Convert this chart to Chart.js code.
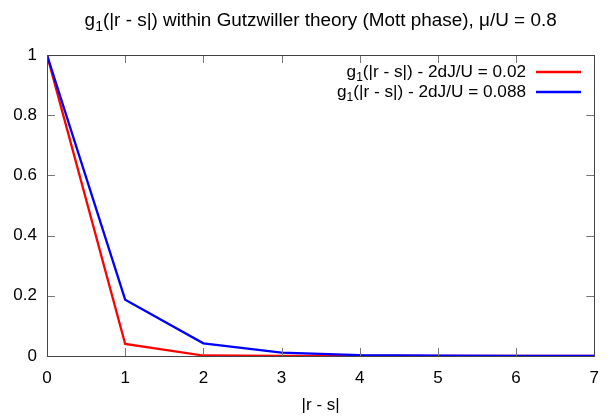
<!DOCTYPE html>
<html>
<head>
<meta charset="utf-8">
<script src="https://cdn.jsdelivr.net/npm/chart.js@4"></script>
<style>
  html, body { margin: 0; padding: 0; background: #fff; }
  #wrap { width: 611px; height: 416px; }
</style>
</head>
<body>
<div id="wrap"><canvas id="chart" width="611" height="416"></canvas></div>
<script>
/* g1(|r - s|) — Gutzwiller, Mott phase */

const distances = [0, 1, 2, 3, 4, 5, 6, 7];
const g1Low = [1, 0.04, 0.0016, 0.0001, 0, 0, 0, 0];          // 2dJ/U = 0.02
const g1High = [1, 0.187, 0.042, 0.011, 0.003, 0.001, 0.0003, 0.0001]; // 2dJ/U = 0.088
const xTicks = [0, 1, 2, 3, 4, 5, 6, 7];
const yTicks = [0, 0.2, 0.4, 0.6, 0.8, 1];
const seriesLabels = ['(|r - s|) - 2dJ/U = 0.02', '(|r - s|) - 2dJ/U = 0.088'];
const seriesColors = ['#ff0000', '#0000ff'];

const FONT = '"Liberation Sans", Arial, sans-serif';

// "g" + subscript "1" + rest
function drawSubText(ctx, rest, x, y, align, size) {
    const sub = Math.round(size * 0.72);
    ctx.font = size + 'px ' + FONT;
    const wG = ctx.measureText('g').width;
    const wRest = ctx.measureText(rest).width;
    ctx.font = sub + 'px ' + FONT;
    const wSub = ctx.measureText('1').width;
    const total = wG + wSub + wRest;
    const x0 = align === 'center' ? x - total / 2 : x - total;
    ctx.textAlign = 'left';
    ctx.textBaseline = 'middle';
    ctx.fillStyle = '#000';
    ctx.font = size + 'px ' + FONT;
    ctx.fillText('g', x0, y);
    ctx.font = sub + 'px ' + FONT;
    ctx.fillText('1', x0 + wG, y + size * 0.32);
    ctx.font = size + 'px ' + FONT;
    ctx.fillText(rest, x0 + wG + wSub, y);
}

const framePlugin = {
    id: 'frame',
    afterDraw(chart) {
        const ctx = chart.ctx;
        const a = chart.chartArea;
        const xs = chart.scales.x;
        const ys = chart.scales.y;
        ctx.save();

        // inward ticks on all four sides
        ctx.strokeStyle = '#777';
        ctx.lineWidth = 1;
        ctx.beginPath();
        xTicks.forEach(v => {
            const px = Math.round(xs.getPixelForValue(v)) + 0.5;
            ctx.moveTo(px, a.bottom); ctx.lineTo(px, a.bottom - 8);
            ctx.moveTo(px, a.top); ctx.lineTo(px, a.top + 8);
        });
        yTicks.forEach(v => {
            const py = Math.round(ys.getPixelForValue(v)) + 0.5;
            ctx.moveTo(a.left, py); ctx.lineTo(a.left + 8, py);
            ctx.moveTo(a.right, py); ctx.lineTo(a.right - 8, py);
        });
        ctx.stroke();

        // border box
        ctx.strokeStyle = '#444';
        ctx.strokeRect(Math.round(a.left) + 0.5, Math.round(a.top) + 0.5,
            Math.round(a.right - a.left), Math.round(a.bottom - a.top));

        // title
        drawSubText(ctx, '(|r - s|) within Gutzwiller theory (Mott phase), \u03bc/U = 0.8',
            (a.left + a.right) / 2, 21, 'center', 18.9);

        // legend (top right, inside)
        seriesLabels.forEach((lab, i) => {
            const y = 72 + i * 20;
            drawSubText(ctx, lab, 526, y, 'right', 17.2);
            ctx.strokeStyle = seriesColors[i];
            ctx.lineWidth = 2.3;
            ctx.beginPath();
            ctx.moveTo(536, y);
            ctx.lineTo(581, y);
            ctx.stroke();
        });
        ctx.restore();
    }
};

new Chart(document.getElementById('chart'), {
    type: 'line',
    data: {
        datasets: [
            {
                label: seriesLabels[0],
                data: distances.map((d, i) => ({ x: d, y: g1Low[i] })),
                borderColor: seriesColors[0],
                borderWidth: 2.3,
                pointRadius: 0,
                tension: 0,
                fill: false,
                order: 2,
            },
            {
                label: seriesLabels[1],
                data: distances.map((d, i) => ({ x: d, y: g1High[i] })),
                borderColor: seriesColors[1],
                borderWidth: 2.3,
                pointRadius: 0,
                tension: 0,
                fill: false,
                order: 1,
            },
        ],
    },
    options: {
        responsive: false,
        animation: false,
        devicePixelRatio: 1,
        layout: { padding: { top: 55, right: 11, left: 0, bottom: 0 } },
        plugins: {
            legend: { display: false },
            title: { display: false },
            tooltip: { enabled: false },
        },
        scales: {
            x: {
                type: 'linear',
                min: 0,
                max: 7,
                afterFit(s) { s.height = 60; },
                afterBuildTicks(s) { s.ticks = xTicks.map(v => ({ value: v })); },
                grid: { display: false, drawTicks: false },
                border: { display: false },
                ticks: { color: '#000', font: { family: FONT, size: 17 }, padding: 12, maxRotation: 0 },
                title: {
                    display: true,
                    text: '|r - s|',
                    color: '#000',
                    font: { family: FONT, size: 17 },
                    padding: { top: 0, bottom: 0 },
                },
            },
            y: {
                type: 'linear',
                min: 0,
                max: 1,
                afterFit(s) { s.width = 47; },
                afterBuildTicks(s) { s.ticks = yTicks.map(v => ({ value: v })); },
                grid: { display: false, drawTicks: false },
                border: { display: false },
                ticks: {
                    color: '#000',
                    font: { family: FONT, size: 17 },
                    padding: 10,
                    callback: v => String(Math.round(v * 10) / 10),
                },
            },
        },
    },
    plugins: [framePlugin],
});
</script>
</body>
</html>
